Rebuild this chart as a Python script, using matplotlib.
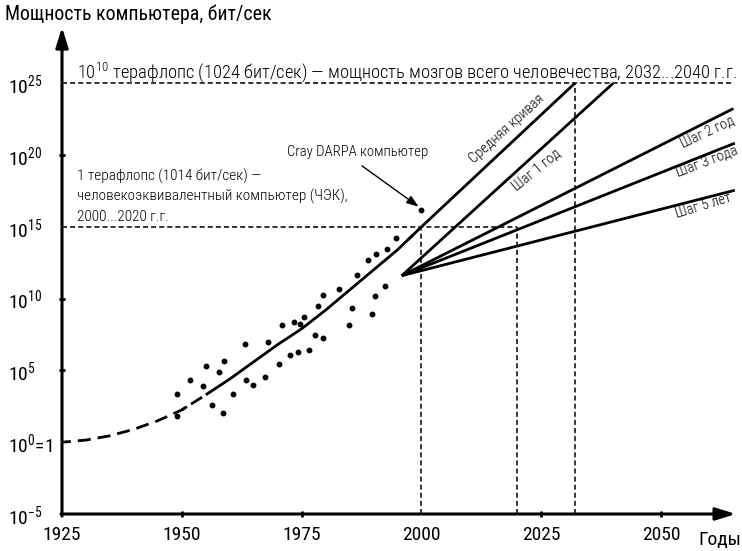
import matplotlib
matplotlib.use("Agg")
import matplotlib.pyplot as plt
import matplotlib.font_manager as fm


def pick_font(names):
    for n in names:
        try:
            fm.findfont(n, fallback_to_default=False)
            return n
        except Exception:
            pass
    return "DejaVu Sans"


FONT = pick_font(["Roboto Condensed", "Liberation Sans Narrow", "Open Sans Condensed", "Roboto"])
plt.rcParams["font.family"] = [FONT, "DejaVu Sans"]
plt.rcParams["mathtext.fontset"] = "custom"
plt.rcParams["mathtext.rm"] = FONT
plt.rcParams["mathtext.it"] = FONT
plt.rcParams["mathtext.bf"] = FONT
plt.rcParams["mathtext.default"] = "regular"

# average growth curve (log10 of bit/s)
avg_years = [1925, 1930, 1935, 1940, 1945, 1950, 1955, 1960, 1965, 1970,
             1975, 1980, 1985, 1990, 1995, 2000, 2032]
avg_log = [0.0, 0.15, 0.45, 0.9, 1.5, 2.25, 3.3, 4.4, 5.6, 6.8,
           7.9, 9.2, 10.6, 12.0, 13.4, 15.0, 25.0]
dash_until = 1955

# measured computers
pt_years = [1994.6, 1992.8, 1990.5, 1988.9, 1986.6, 1992.3, 1990.3, 1989.6, 1985.6, 1984.9,
            1982.9, 1979.4, 1978.4, 1975.4, 1974.6, 1973.4, 1970.9, 1967.9, 1963.1, 1958.9,
            1957.8, 1955.1, 1951.7, 1954.5, 1949.1, 1949.1, 1956.4, 1958.6, 1960.6, 1963.3,
            1964.8, 1967.4, 1970.2, 1972.5, 1974.3, 1976.5, 1977.7, 1979.5]
pt_log = [14.21, 13.48, 13.12, 12.67, 11.64, 10.89, 10.17, 8.91, 9.35, 8.14,
          10.69, 10.24, 9.49, 8.70, 8.25, 8.35, 8.18, 7.00, 6.82, 5.67,
          4.86, 5.30, 4.31, 3.94, 3.35, 1.80, 2.58, 2.04, 3.33, 4.30,
          3.99, 4.53, 5.46, 6.07, 6.30, 6.44, 7.47, 7.23]
cray_year, cray_log = 2000.0, 16.2

# forecast fan
fan_year, fan_log = 1995.9, 11.6
step_names = ["Шаг 1 год", "Шаг 2 год", "Шаг 3 года", "Шаг 5 лет"]
step_end_years = [2040.0, 2065.1, 2065.4, 2065.4]
step_end_logs = [25.0, 23.24, 20.83, 17.55]

# reference levels
brain_log, tera_log = 25, 15
brain_years = [2032, 2040]
tera_years = [2000, 2020]

x_ticks = [1925, 1950, 1975, 2000, 2025, 2050]
y_ticks = [-5, 0, 5, 10, 15, 20, 25]
y_labels = [r"$10^{-5}$", r"$10^{0}$=1", r"$10^{5}$", r"$10^{10}$",
            r"$10^{15}$", r"$10^{20}$", r"$10^{25}$"]

fig = plt.figure(figsize=(7.42, 5.51), dpi=100)
ax = fig.add_axes([62 / 742, 37 / 551, 680.5 / 742, 491 / 551])
ax.set_xlim(1925, 2067)
ax.set_ylim(-5, 29.2)
for s in ax.spines.values():
    s.set_visible(False)

# axes with arrows
arrow = dict(arrowstyle="-|>,head_length=0.8,head_width=0.25", mutation_scale=15,
             lw=2.2, color="black", shrinkA=0, shrinkB=0)
ax.annotate("", xy=(2065.6, -5), xytext=(1924.8, -5), arrowprops=arrow, annotation_clip=False)
ax.annotate("", xy=(1925, 28.9), xytext=(1925, -5.15), arrowprops=arrow, annotation_clip=False)

ax.set_xticks(x_ticks, [str(v) for v in x_ticks])
ax.set_yticks(y_ticks, y_labels)
ax.tick_params(axis="x", direction="inout", length=5, width=2, pad=6, labelsize=14)
ax.tick_params(axis="y", direction="inout", length=5, width=2, pad=36.4, labelsize=14)
for lab in ax.get_yticklabels():
    lab.set_horizontalalignment("left")
for t, v in zip(ax.xaxis.get_major_ticks(), x_ticks):
    if v in (1925, 2000):
        t.tick1line.set_visible(False)
for t, v in zip(ax.yaxis.get_major_ticks(), y_ticks):
    if v in (-5, 0, 15, 25):
        t.tick1line.set_visible(False)

# guide lines
guide = dict(color="black", lw=1.1, linestyle=(0, (3.3, 2)), zorder=1)
ax.plot([1925, 2064.7], [brain_log, brain_log], **guide)
ax.plot([1925, tera_years[1]], [tera_log, tera_log], **guide)
for yr in tera_years:
    ax.plot([yr, yr], [-5, tera_log], **guide)
ax.plot([brain_years[0], brain_years[0]], [-5, brain_log], **guide)

# average curve: dashed early part, solid afterwards
i = avg_years.index(dash_until)
ax.plot(avg_years[:i + 1], avg_log[:i + 1], color="black", lw=2.0,
        linestyle=(1.5, (4.7, 2.5)), zorder=3)
ax.plot(avg_years[i - 1:], avg_log[i - 1:], color="black", lw=2.0, zorder=3,
        linestyle=(0, (2.2, 100)), solid_capstyle="butt")
ax.plot(avg_years[i:], avg_log[i:], color="black", lw=2.0, zorder=3, solid_capstyle="butt")

# fan of forecasts
for ey, el in zip(step_end_years, step_end_logs):
    ax.plot([fan_year, ey], [fan_log, el], color="black", lw=2.0, zorder=3,
            solid_capstyle="butt", clip_on=False)

ax.plot(pt_years, pt_log, "o", color="black", ms=3.2, zorder=4)
ax.plot([cray_year], [cray_log], "o", color="black", ms=3.2, zorder=4)

# labels on the lines
line_labels = ["Средняя кривая"] + step_names
lab_pos = [(2017.9, 21.85, 42), (2024.1, 18.95, 39), (2059.8, 21.6, 25),
           (2059.6, 19.55, 21), (2058.8, 16.45, 17)]
for txt, (lx, ly, rot) in zip(line_labels, lab_pos):
    ax.text(lx, ly, txt, rotation=rot, rotation_mode="anchor", ha="center", va="center",
            fontsize=10.5, fontweight="light", clip_on=False)

# annotations
ax.text(1928.1, 25.3, r"$10^{10}$ терафлопс (1024 бит/сек) — мощность мозгов всего человечества, 2032...2040 г.г.",
        fontsize=13.3, fontweight="light", ha="left", va="baseline")
for k, line in enumerate(["1 терафлопс (1014 бит/сек) —",
                          "человекоэквивалентный компьютер (ЧЭК),",
                          "2000...2020 г.г."]):
    ax.text(1928.1, 18.23 - k * 1.4, line, fontsize=11, fontweight="light",
            ha="left", va="baseline")

ax.text(1971.9, 19.95, "Cray DARPA компьютер", fontsize=10.6, fontweight="light",
        ha="left", va="baseline")
ax.annotate("", xy=(1999.4, 16.41), xytext=(1987.6, 19.25),
            arrowprops=dict(arrowstyle="-|>,head_length=0.6,head_width=0.22", mutation_scale=12,
                            lw=1.0, color="black", shrinkA=0, shrinkB=0))

fig.text(5 / 742, 1 - 20 / 551, "Мощность компьютера, бит/сек", fontsize=14.3,
         ha="left", va="baseline")
fig.text(698 / 742, 1 - 545 / 551, "Годы", fontsize=14, ha="left", va="baseline")

fig.savefig("out.png", dpi=100)
